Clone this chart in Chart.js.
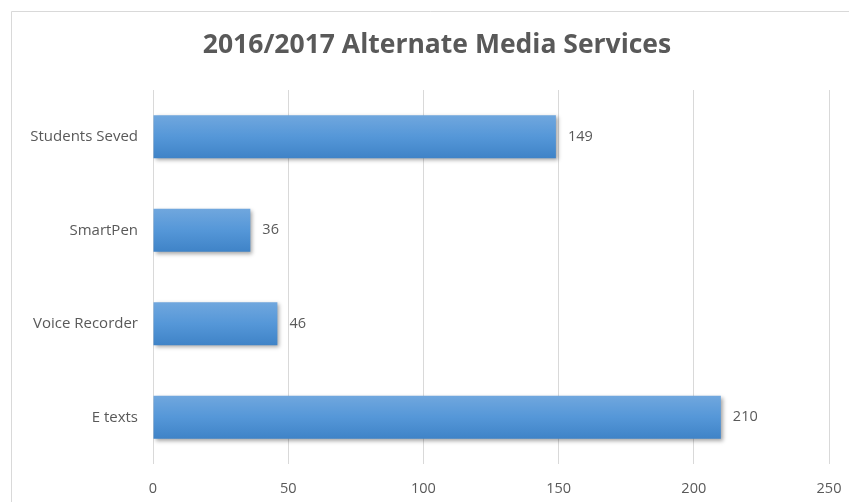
<!DOCTYPE html>
<html>
<head>
<meta charset="utf-8">
<script src="https://cdn.jsdelivr.net/npm/chart.js@4"></script>
<style>
  html, body { margin: 0; padding: 0; background: #fff; }
  #wrap { width: 849px; height: 502px; }
</style>
</head>
<body>
<div id="wrap"><canvas id="mediaChart" width="849" height="502"></canvas></div>
<script>
const categories = ['Students Seved', 'SmartPen', 'Voice Recorder', 'E texts'];
const values = [149, 36, 46, 210];
const xTicks = [0, 50, 100, 150, 200, 250];
const chartTitle = '2016/2017 Alternate Media Services';

const textColor = '#595959';
const fontFamily = '"Open Sans", "Noto Sans", sans-serif';

// frame round the chart, cut off at right and bottom like the picture
const framePlugin = {
    id: 'frame',
    beforeDraw(chart) {
        const ctx = chart.ctx;
        ctx.save();
        ctx.fillStyle = '#fff';
        ctx.fillRect(0, 0, chart.width, chart.height);
        ctx.strokeStyle = '#d9d9d9';
        ctx.lineWidth = 1;
        ctx.beginPath();
        ctx.moveTo(11.5, chart.height);
        ctx.lineTo(11.5, 11.5);
        ctx.lineTo(chart.width, 11.5);
        ctx.stroke();
        ctx.restore();
    }
};

// title sits a bit right of the canvas middle, like the original
const titlePlugin = {
    id: 'sideTitle',
    afterDraw(chart) {
        const ctx = chart.ctx;
        ctx.save();
        ctx.fillStyle = textColor;
        ctx.font = 'bold 26.5px ' + fontFamily;
        ctx.textAlign = 'center';
        ctx.textBaseline = 'middle';
        ctx.fillText(chartTitle, 437, 45);
        ctx.restore();
    }
};

// vertical gradient per bar + soft shadow under the bars
const barLook = {
    id: 'barLook',
    beforeDatasetDraw(chart) {
        const ctx = chart.ctx;
        chart.getDatasetMeta(0).data.forEach(bar => {
            const top = bar.y - bar.height / 2;
            const bottom = bar.y + bar.height / 2;
            if (!isFinite(top) || !isFinite(bottom)) return;
            const g = ctx.createLinearGradient(0, top, 0, bottom);
            g.addColorStop(0, '#70a7de');
            g.addColorStop(0.5, '#5597d8');
            g.addColorStop(1, '#3f83c7');
            bar.options.backgroundColor = g;
        });
        ctx.save();
        ctx.shadowColor = 'rgba(0,0,0,0.35)';
        ctx.shadowBlur = 4;
        ctx.shadowOffsetX = 2;
        ctx.shadowOffsetY = 2;
    },
    afterDatasetDraw(chart) {
        chart.ctx.restore();
    }
};

// value labels at the end of each bar
const valueLabels = {
    id: 'valueLabels',
    afterDatasetsDraw(chart) {
        const ctx = chart.ctx;
        const meta = chart.getDatasetMeta(0);
        ctx.save();
        ctx.fillStyle = textColor;
        ctx.font = '14.5px ' + fontFamily;
        ctx.textAlign = 'left';
        ctx.textBaseline = 'middle';
        meta.data.forEach((bar, i) => {
            ctx.fillText(String(values[i]), bar.x + 12, bar.y);
        });
        ctx.restore();
    }
};

new Chart(document.getElementById('mediaChart').getContext('2d'), {
    type: 'bar',
    data: {
        labels: categories,
        datasets: [{
            data: values,
            // scriptable so each bar keeps its own options object
            backgroundColor: () => '#5597d8',
            borderWidth: 0,
            barPercentage: 0.46,
            categoryPercentage: 1
        }]
    },
    options: {
        indexAxis: 'y',
        responsive: false,
        animation: false,
        layout: { padding: { left: 0, right: 20, top: 90, bottom: 0 } },
        scales: {
            x: {
                min: 0,
                max: 250,
                afterBuildTicks: (scale) => { scale.ticks = xTicks.map(v => ({ value: v })); },
                afterFit: (scale) => {
                    scale.height = 38;
                    scale.paddingLeft = 0;
                    scale.paddingRight = 0;
                },
                grid: { color: '#d9d9d9', drawTicks: false },
                border: { display: false },
                ticks: { color: textColor, padding: 16, font: { family: fontFamily, size: 14.5 } }
            },
            y: {
                afterFit: (scale) => {
                    scale.width = 153;
                    scale.paddingTop = 0;
                    scale.paddingBottom = 0;
                },
                grid: { display: false, drawTicks: false },
                border: { display: false },
                ticks: { color: textColor, padding: 15, font: { family: fontFamily, size: 15 } }
            }
        },
        plugins: {
            legend: { display: false },
            tooltip: { enabled: false },
            title: { display: false }
        }
    },
    plugins: [framePlugin, barLook, valueLabels, titlePlugin]
});
</script>
</body>
</html>
